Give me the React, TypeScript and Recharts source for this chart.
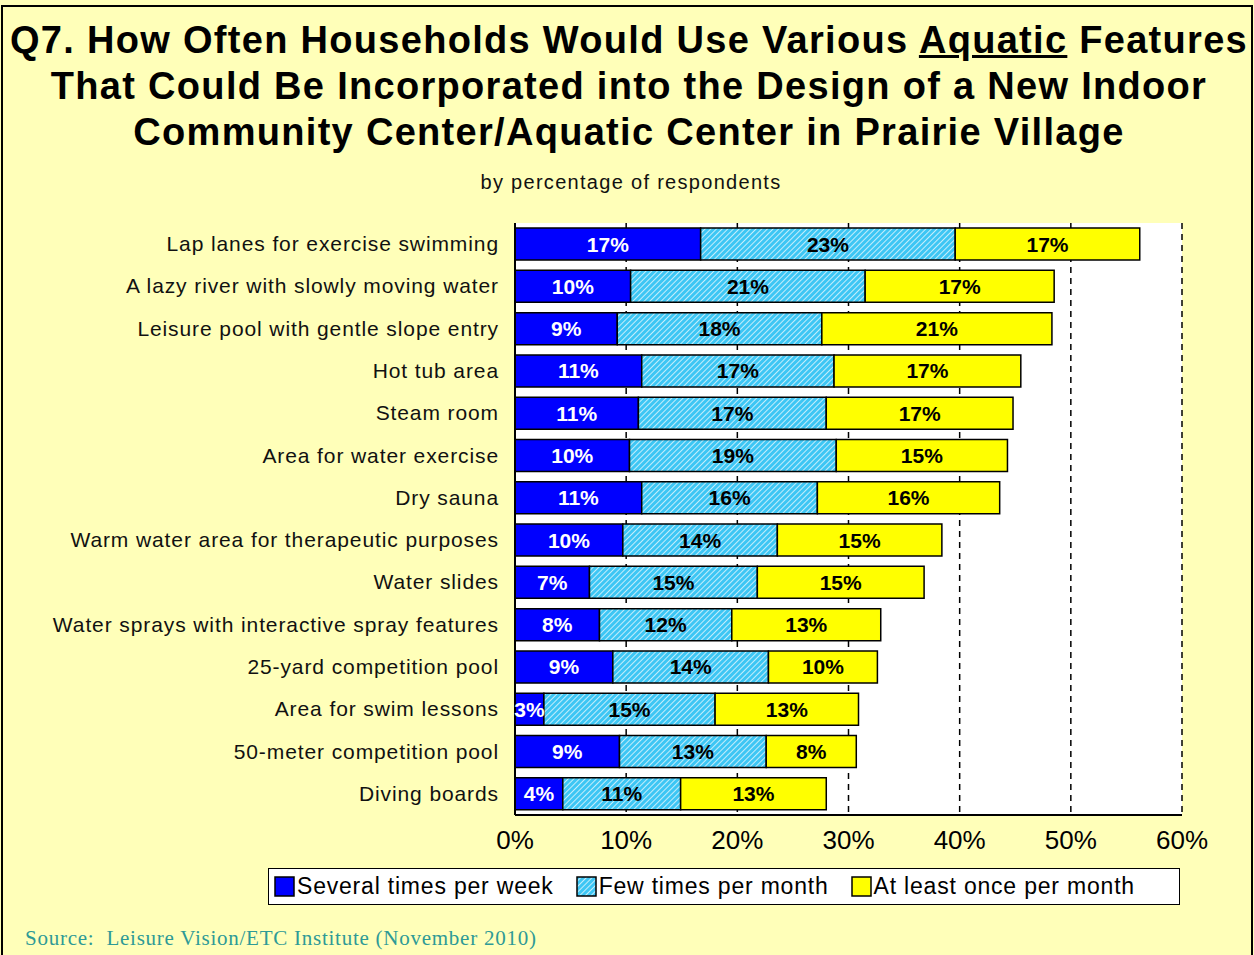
import React from 'react';
import { BarChart, Bar, XAxis, YAxis, CartesianGrid, LabelList, Legend } from 'recharts';

const categories = [
  'Lap lanes for exercise swimming',
  'A lazy river with slowly moving water',
  'Leisure pool with gentle slope entry',
  'Hot tub area',
  'Steam room',
  'Area for water exercise',
  'Dry sauna',
  'Warm water area for therapeutic purposes',
  'Water slides',
  'Water sprays with interactive spray features',
  '25-yard competition pool',
  'Area for swim lessons',
  '50-meter competition pool',
  'Diving boards',
];
const severalTimesPerWeek = [16.7, 10.4, 9.2, 11.4, 11.1, 10.3, 11.4, 9.7, 6.7, 7.6, 8.8, 2.6, 9.4, 4.3];
const fewTimesPerMonth = [22.9, 21.1, 18.4, 17.3, 16.9, 18.6, 15.8, 13.9, 15.1, 11.9, 14.0, 15.4, 13.2, 10.6];
const atLeastOncePerMonth = [16.6, 17.0, 20.7, 16.8, 16.8, 15.4, 16.4, 14.8, 15.0, 13.4, 9.8, 12.9, 8.1, 13.1];
const seriesNames = ['Several times per week', 'Few times per month', 'At least once per month'];
const xTicks = [0, 10, 20, 30, 40, 50, 60];

const data = categories.map((name, i) => ({
  name,
  s1: severalTimesPerWeek[i],
  s2: fewTimesPerMonth[i],
  s3: atLeastOncePerMonth[i],
}));

const FONT = '"Liberation Sans", Arial, sans-serif';
const fmt = (v: any) => `${Math.round(Number(v))}%`;

const CatTick = (props: any) => {
  const { x, y, payload } = props;
  return (
    <text x={x} y={y} dy={7} textAnchor="end" fontSize={21} fontFamily={FONT} fill="#111" letterSpacing={0.9}>
      {payload.value}
    </text>
  );
};

const LegendContent = (props: any) => {
  const payload = [...(props.payload || [])].sort(
    (a: any, b: any) => seriesNames.indexOf(a.value) - seriesNames.indexOf(b.value)
  );
  return (
    <div
      style={{
        boxSizing: 'border-box',
        width: 912,
        height: 37,
        border: '1.5px solid #000',
        background: '#fff',
        display: 'flex',
        alignItems: 'center',
        paddingLeft: 5,
        fontFamily: FONT,
        fontSize: 23,
        letterSpacing: 0.8,
        color: '#000',
        whiteSpace: 'nowrap',
      }}
    >
      {payload.map((e: any, i: number) => (
        <span key={i} style={{ display: 'inline-flex', alignItems: 'center', marginRight: i < 2 ? 22 : 0 }}>
          <svg width={21} height={21} style={{ marginRight: 2 }}>
            <rect x={1} y={1} width={19} height={19} fill={e.color} stroke="#000" strokeWidth={1.5} />
          </svg>
          {e.value}
        </span>
      ))}
    </div>
  );
};

export default function App() {
  return (
    <div
      style={{
        position: 'relative',
        width: 1254,
        height: 955,
        background: '#FFFFB9',
        overflow: 'hidden',
      }}
    >
      <style>{`body{margin:0}`}</style>
      <div
        style={{
          position: 'absolute',
          left: 1,
          top: 5,
          width: 1248,
          height: 960,
          borderLeft: '2px solid #000',
          borderTop: '2px solid #000',
          borderRight: '2px solid #000',
        }}
      />
      <div
        style={{
          position: 'absolute',
          left: 0,
          top: 17,
          width: 1258,
          textAlign: 'center',
          fontFamily: FONT,
          fontWeight: 'bold',
          fontSize: 38,
          letterSpacing: 1.3,
          lineHeight: '46px',
          color: '#000',
          whiteSpace: 'nowrap',
        }}
      >
        <div>
          Q7. How Often Households Would Use Various <span style={{ textDecoration: 'underline' }}>Aquatic</span> Features
        </div>
        <div>That Could Be Incorporated into the Design of a New Indoor</div>
        <div>Community Center/Aquatic Center in Prairie Village</div>
      </div>
      <div
        style={{
          position: 'absolute',
          left: 0,
          top: 171,
          width: 1262,
          textAlign: 'center',
          fontFamily: FONT,
          fontSize: 20,
          letterSpacing: 1.3,
          color: '#111',
        }}
      >
        by percentage of respondents
      </div>
      <div style={{ position: 'absolute', left: 0, top: 0 }}>
        <BarChart
          width={1254}
          height={955}
          data={data}
          layout="vertical"
          margin={{ top: 223, right: 72, bottom: 63, left: 0 }}
          barCategoryGap="12%"
        >
          <defs>
            <pattern id="hatch" patternUnits="userSpaceOnUse" width="4" height="4" patternTransform="rotate(45)">
              <rect x="0" y="0" width="4" height="4" fill="#3DC6F4" />
              <line x1="0" y1="0" x2="0" y2="4" stroke="#ffffff" strokeWidth="1.4" />
            </pattern>
          </defs>
          <CartesianGrid
            vertical
            horizontal={false}
            fill="#ffffff"
            stroke="#000"
            strokeWidth={1.5}
            strokeDasharray="6 5"
          />
          <XAxis
            type="number"
            domain={[0, 60]}
            ticks={xTicks}
            tickFormatter={(v: number) => `${v}%`}
            height={40}
            axisLine={{ stroke: '#000', strokeWidth: 2 }}
            tickLine={false}
            tickMargin={10}
            tick={{ fontSize: 26, fontFamily: FONT, fill: '#000' }}
            allowDataOverflow
          />
          <XAxis
            xAxisId="top"
            orientation="top"
            type="number"
            domain={[0, 60]}
            height={0}
            tick={false}
            tickLine={false}
            axisLine={{ stroke: '#000', strokeWidth: 2 }}
          />
          <YAxis
            type="category"
            dataKey="name"
            width={515}
            axisLine={{ stroke: '#000', strokeWidth: 2 }}
            tickLine={false}
            tickMargin={10}
            tick={<CatTick />}
            interval={0}
          />
          <YAxis
            yAxisId="right"
            orientation="right"
            type="category"
            dataKey="name"
            width={0}
            tick={false}
            tickLine={false}
            axisLine={{ stroke: '#000', strokeWidth: 2 }}
          />
          <Legend
            verticalAlign="bottom"
            content={<LegendContent />}
            wrapperStyle={{ position: 'absolute', left: 268, top: 868, width: 912, height: 37, bottom: 'auto' }}
          />
          <Bar dataKey="s1" name={seriesNames[0]} stackId="a" fill="#0000FF" stroke="#000" strokeWidth={1.5} isAnimationActive={false}>
            <LabelList dataKey="s1" position="center" formatter={fmt} fill="#fff" fontSize={21} fontWeight="bold" fontFamily={FONT} />
          </Bar>
          <Bar dataKey="s2" name={seriesNames[1]} stackId="a" fill="url(#hatch)" stroke="#000" strokeWidth={1.5} isAnimationActive={false}>
            <LabelList dataKey="s2" position="center" formatter={fmt} fill="#000" fontSize={21} fontWeight="bold" fontFamily={FONT} />
          </Bar>
          <Bar dataKey="s3" name={seriesNames[2]} stackId="a" fill="#FFFF00" stroke="#000" strokeWidth={1.5} isAnimationActive={false}>
            <LabelList dataKey="s3" position="center" formatter={fmt} fill="#000" fontSize={21} fontWeight="bold" fontFamily={FONT} />
          </Bar>
        </BarChart>
      </div>
      <div
        style={{
          position: 'absolute',
          left: 25,
          top: 926,
          fontFamily: '"Liberation Serif", "Times New Roman", serif',
          fontSize: 21,
          letterSpacing: 0.75,
          color: '#2E9A96',
          whiteSpace: 'nowrap',
        }}
      >
        Source:&nbsp; Leisure Vision/ETC Institute (November 2010)
      </div>
    </div>
  );
}
